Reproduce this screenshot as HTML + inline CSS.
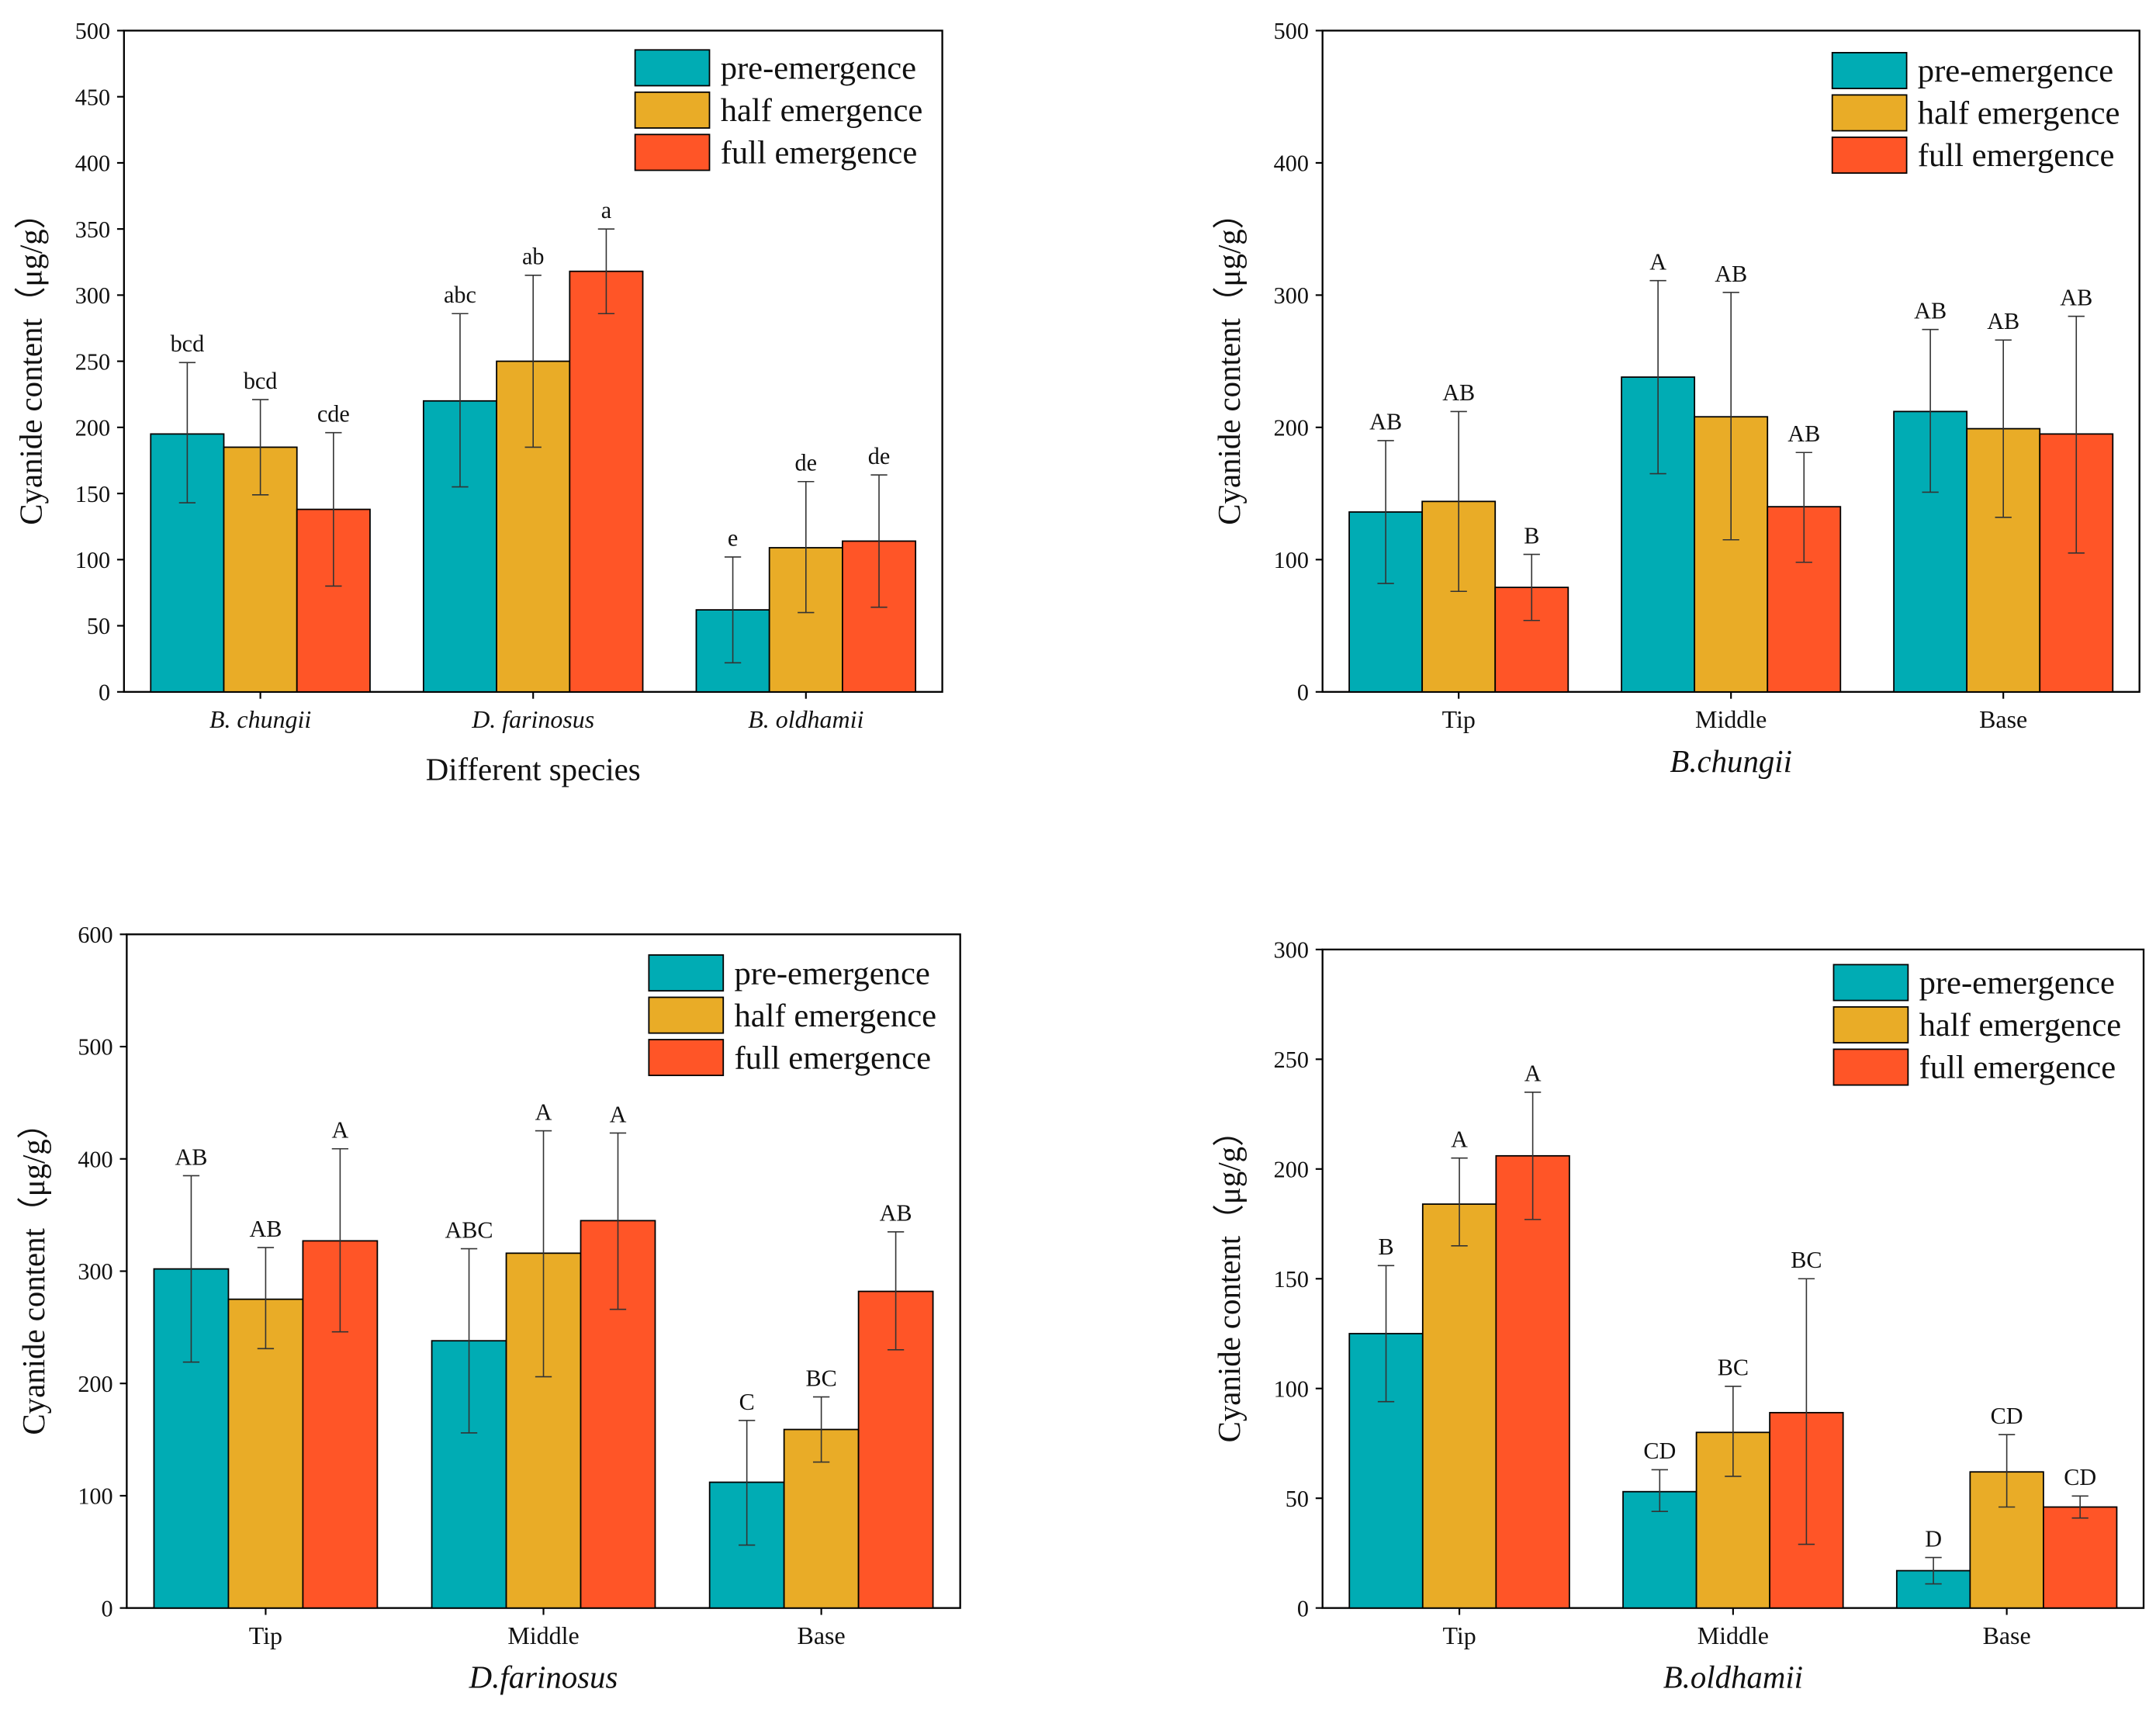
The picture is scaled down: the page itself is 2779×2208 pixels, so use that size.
<!DOCTYPE html>
<html><head><meta charset="utf-8"><style>
html,body{margin:0;padding:0;background:#fff}
svg{display:block}
text{font-family:"Liberation Serif",serif;fill:#111}
</style></head><body>
<svg id="chart" width="2779" height="2208" viewBox="0 0 1565 1243" xmlns="http://www.w3.org/2000/svg"></svg>
<script>
const seriesNames = ["pre-emergence","half emergence","full emergence"];
const colors = ["#00ACB4","#E9AC27","#FF5527"];

const p1Categories = ["B. chungii","D. farinosus","B. oldhamii"];
const p1Values = [[195,220,62],[185,250,109],[138,318,114]];
const p1ErrHigh = [[249,286,102],[221,315,159],[196,350,164]];
const p1ErrLow = [[143,155,22],[149,185,60],[80,286,64]];
const p1Letters = [["bcd","abc","e"],["bcd","ab","de"],["cde","a","de"]];
const p1Ticks = [0,50,100,150,200,250,300,350,400,450,500];

const p2Categories = ["Tip","Middle","Base"];
const p2Values = [[136,238,212],[144,208,199],[79,140,195]];
const p2ErrHigh = [[190,311,274],[212,302,266],[104,181,284]];
const p2ErrLow = [[82,165,151],[76,115,132],[54,98,105]];
const p2Letters = [["AB","A","AB"],["AB","AB","AB"],["B","AB","AB"]];
const p2Ticks = [0,100,200,300,400,500];

const p3Categories = ["Tip","Middle","Base"];
const p3Values = [[302,238,112],[275,316,159],[327,345,282]];
const p3ErrHigh = [[385,320,167],[321,425,188],[409,423,335]];
const p3ErrLow = [[219,156,56],[231,206,130],[246,266,230]];
const p3Letters = [["AB","ABC","C"],["AB","A","BC"],["A","A","AB"]];
const p3Ticks = [0,100,200,300,400,500,600];

const p4Categories = ["Tip","Middle","Base"];
const p4Values = [[125,53,17],[184,80,62],[206,89,46]];
const p4ErrHigh = [[156,63,23],[205,101,79],[235,150,51]];
const p4ErrLow = [[94,44,11],[165,60,46],[177,29,41]];
const p4Letters = [["B","CD","D"],["A","BC","CD"],["A","BC","CD"]];
const p4Ticks = [0,50,100,150,200,250,300];

const svg = document.getElementById('chart');
const NS = "http://www.w3.org/2000/svg";
function el(tag, attrs, parent, txt){
  const e = document.createElementNS(NS, tag);
  for (const k in attrs) e.setAttribute(k, attrs[k]);
  if (txt !== undefined) e.textContent = txt;
  (parent||svg).appendChild(e);
  return e;
}

function panel(cfg){
  const g = el('g', {});
  
  
  const {x0,x1,y0,y1,max,ticks,cats,vals,hi,lo,letters} = cfg;
  const ys = v => y1 - (v/max)*(y1-y0);
  const gw = (x1-x0)/cats.length;
  const bw = gw*0.268;
  const fr = el('rect', {x:x0,y:y0,width:x1-x0,height:y1-y0,fill:'none',stroke:'#000','stroke-width':1.3}, g);
  
  
  ticks.forEach(t=>{
    const y = ys(t);
    el('line',{x1:x0-5,x2:x0,y1:y,y2:y,stroke:'#000','stroke-width':1.2},g);
    const tl = el('text',{x:x0-10,y:y+6,'font-size':17,'text-anchor':'end'},g,String(t));
    
    
  });
  cats.forEach((c,i)=>{
    const cx = x0 + gw*(i+0.5);
    el('line',{x1:cx,x2:cx,y1:y1,y2:y1+5,stroke:'#000','stroke-width':1.2},g);
    const xl = el('text',{x:cx,y:y1+26,'font-size':18,'text-anchor':'middle','font-style':cfg.italicCats?'italic':'normal'},g,c);
    
    
    for (let s=0;s<3;s++){
      const bx = cx - 1.5*bw + s*bw;
      const v = vals[s][i];
      const r = el('rect',{x:bx,y:ys(v),width:bw,height:y1-ys(v),fill:colors[s],stroke:'#000','stroke-width':1},g);
      
      
      const mx = bx + bw/2;
      el('line',{x1:mx,x2:mx,y1:ys(hi[s][i]),y2:ys(lo[s][i]),stroke:'#333','stroke-width':0.9},g);
      el('line',{x1:mx-6,x2:mx+6,y1:ys(hi[s][i]),y2:ys(hi[s][i]),stroke:'#333','stroke-width':0.9},g);
      el('line',{x1:mx-6,x2:mx+6,y1:ys(lo[s][i]),y2:ys(lo[s][i]),stroke:'#333','stroke-width':0.9},g);
      const lt = el('text',{x:mx,y:ys(hi[s][i])-8,'font-size':17,'text-anchor':'middle'},g,letters[s][i]);
      
      
    }
  });
  const yt = el('text',{x:0,y:0,'font-size':23,'text-anchor':'middle',transform:`translate(${x0-60},${(y0+y1)/2}) rotate(-90)`},g,'Cyanide content（μg/g）');
  
  
  const xt = el('text',{x:(x0+x1)/2,y:y1+cfg.xTitleOff,'font-size':23,'text-anchor':'middle','font-style':cfg.italicTitle?'italic':'normal'},g,cfg.xTitle);
  
  
  for (let s=0;s<3;s++){
    const ly = cfg.legY + s*30.7;
    const lb = el('rect',{x:cfg.legX,y:ly,width:54,height:26,fill:colors[s],stroke:'#000','stroke-width':1},g);
    
    
    const ltx = el('text',{x:cfg.legX+62,y:ly+21,'font-size':24},g,seriesNames[s]);
    
    
  }
}

panel({name:'panel-species',x0:90,x1:684,y0:22,y1:502,max:500,ticks:p1Ticks,cats:p1Categories,vals:p1Values,hi:p1ErrHigh,lo:p1ErrLow,letters:p1Letters,italicCats:true,xTitle:'Different species',italicTitle:false,xTitleOff:64,legX:461,legY:36});
panel({name:'panel-b-chungii',x0:960,x1:1553,y0:22,y1:502,max:500,ticks:p2Ticks,cats:p2Categories,vals:p2Values,hi:p2ErrHigh,lo:p2ErrLow,letters:p2Letters,italicCats:false,xTitle:'B.chungii',italicTitle:true,xTitleOff:58,legX:1330,legY:38});
panel({name:'panel-d-farinosus',x0:92,x1:697,y0:678,y1:1167,max:600,ticks:p3Ticks,cats:p3Categories,vals:p3Values,hi:p3ErrHigh,lo:p3ErrLow,letters:p3Letters,italicCats:false,xTitle:'D.farinosus',italicTitle:true,xTitleOff:58,legX:471,legY:693});
panel({name:'panel-b-oldhamii',x0:960,x1:1556,y0:689,y1:1167,max:300,ticks:p4Ticks,cats:p4Categories,vals:p4Values,hi:p4ErrHigh,lo:p4ErrLow,letters:p4Letters,italicCats:false,xTitle:'B.oldhamii',italicTitle:true,xTitleOff:58,legX:1331,legY:700});
</script>
</body></html>
